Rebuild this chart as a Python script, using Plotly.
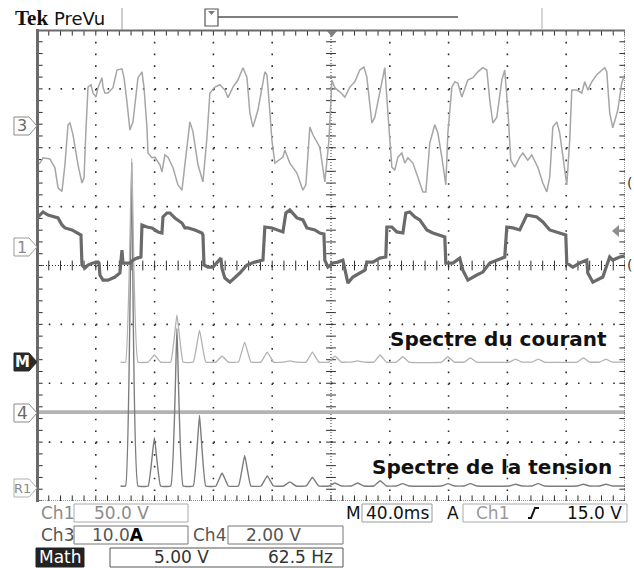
import plotly.graph_objects as go

# ---------------- values ----------------
TIME_DIV_MS = 40.0        # M 40.0 ms
CH1_V_PER_DIV = 50.0      # Ch1 50.0 V
CH3_A_PER_DIV = 10.0      # Ch3 10.0 A
CH4_V_PER_DIV = 2.00      # Ch4 2.00 V
MATH_V_PER_DIV = 5.00     # Math 5.00 V
MATH_HZ_PER_DIV = 62.5    # Math 62.5 Hz

# Ch3 : current (light trace)
ch3_time_ms = [0.0, 2.0, 4.1, 8.8, 12.2, 14.3, 17.0, 19.0, 21.1, 22.4, 24.5, 27.9, 30.6, 32.0, 33.3,
               34.7, 36.7, 38.1, 40.1, 41.5, 44.2, 44.9, 46.2, 48.3, 51.7, 54.4, 57.8, 59.2, 61.2, 63.2,
               65.3, 68.7, 71.4, 72.8, 74.8, 75.5, 78.2, 80.2, 83.6, 85.0, 87.0, 89.1, 92.5, 95.9, 98.6,
               102.0, 104.0, 106.1, 109.5, 112.9, 115.6,
               117.6, 121.0, 124.4, 127.8, 129.9, 133.3, 136.7, 140.1, 142.8, 144.8, 146.9, 150.3, 155.0,
               156.4, 157.8, 159.8, 161.8, 167.3, 168.6, 172.0, 176.8, 180.9, 182.9, 185.6, 187.7, 192.4,
               195.8, 198.6,
               200.6, 202.6, 206.0, 209.4, 212.8, 216.2, 219.6, 222.4, 224.4, 227.8, 229.8, 234.6, 236.6,
               238.7, 241.4, 243.4, 245.5, 248.2, 250.2, 252.3, 255.7, 259.1, 262.5, 264.5, 267.2, 270.6,
               272.7, 275.4, 278.1, 279.5,
               282.2, 284.2, 286.3, 289.0, 291.0, 293.1, 296.5, 299.9, 303.3, 306.0, 308.0, 310.1, 312.8,
               316.2, 318.2, 320.3, 322.3, 325.0, 328.4, 330.5, 333.9, 336.6, 340.7, 344.1, 346.8, 348.8,
               350.9, 353.6, 355.6, 359.0, 360.4, 362.4,
               363.8, 367.2, 370.6, 372.6, 374.7, 377.4, 380.8, 386.2, 387.6, 389.6, 391.7, 395.1, 397.8, 399.8]
ch3_current_a = [-6.6, -6.3, -5.4, -5.6, -7.1, -10.5, -11.1, -6.6, 0.2, 0.5, -1.5, -6.6, -9.7, -8.8, -0.7,
                 6.6, 7.0, 5.6, 4.9, 6.5, 8.2, 6.6, 5.6, 5.6, 6.5, 9.5, 9.7, 8.2, 4.1, -0.7,
                 0.7, 8.2, 9.2, 6.5, -0.3, -4.6, -5.4, -5.3, -6.6, -7.8, -4.9, -5.3, -7.1, -10.0, -10.9,
                 -3.7, 0.7, -1.0, -6.6, -9.5, -2.0,
                 5.6, 6.6, 7.0, 6.1, 4.8, 6.6, 7.8, 9.9, 8.3, 2.2, -0.2, 2.7, 9.2,
                 8.7, 4.4, -2.4, -6.3, -5.3, -4.1, -6.3, -8.0, -10.9, -10.0, -0.2, -1.5, -3.6,
                 -9.5, -2.4,
                 7.8, 6.5, 5.8, 4.9, 6.6, 7.5, 9.5, 10.0, 8.3, 0.5, 1.5, 7.8, 9.9,
                 2.2, -7.0, -7.5, -5.3, -4.6, -6.3, -5.4, -6.3, -8.7, -11.2, -11.2, -2.9, 0.2,
                 -1.2, -5.3, -10.0, -1.2,
                 6.6, 7.5, 7.3, 4.9, 6.5, 7.8, 8.2, 9.2, 9.9, 9.5, 4.4, 0.5, 1.5,
                 7.8, 9.5, 2.7, -5.8, -7.0, -5.3, -4.6, -5.8, -4.9, -7.0, -9.7, -11.2, -8.7,
                 -0.2, 0.7, -1.2, -7.0, -10.0, -2.4,
                 6.1, 6.1, 5.6, 7.5, 6.1, 7.5, 8.7, 9.9, 9.2, 2.2, -0.3, 2.7, 7.3, 8.7]

# Ch1 : voltage (dark, thick trace)
ch1_time_ms = [0.0, 2.0, 4.1, 7.5, 12.2, 14.3, 17.0, 19.0, 23.8, 27.9, 29.9, 30.6, 32.6, 34.7, 38.1,
               41.5, 42.2, 42.8, 44.9, 48.3, 53.0, 56.4, 57.1, 57.8, 58.5, 63.2, 65.3, 68.0, 70.7,
               71.4, 74.8, 78.2, 82.3, 85.0, 85.7, 88.4, 90.4, 93.8, 98.6, 100.6, 102.7, 107.4, 112.2,
               112.9, 113.6, 116.3, 119.7, 123.1, 125.1, 125.8, 127.8, 131.2, 138.0, 142.8, 148.2, 153.7,
               155.0, 159.8, 163.2, 167.3, 169.3, 172.0, 176.8, 180.9, 183.6, 189.0, 192.4, 195.2,
               195.8, 197.9, 201.3, 204.7, 208.1, 209.4, 211.5, 214.9, 219.6, 223.0, 224.4, 228.5, 233.2,
               237.3, 238.0, 241.4, 244.8, 248.9, 250.9, 253.6, 257.0, 260.4, 265.2, 269.3, 277.4,
               278.1, 282.9, 287.6, 289.7, 293.1, 299.2, 303.3, 308.0, 312.8, 318.2,
               319.6, 323.7, 328.4, 333.2, 340.0, 344.1, 348.8, 353.6, 359.7,
               360.4, 364.5, 369.2, 374.0, 374.7, 378.1, 384.9, 388.3, 389.6, 391.7, 396.4, 399.8]
ch1_voltage_v = [24.7, 27.2, 29.8, 27.2, 25.5, 24.7, 18.7, 16.2, 14.5, 11.9, 10.2, -15.3, -17.9, -15.3, -13.6,
                 -12.8, -13.6, -23.8, -28.1, -28.1, -25.5, -22.1, -13.6, -2.6, -13.6, -13.6, -11.1, -9.4, -8.5,
                 18.7, 17.0, 16.2, 12.8, 11.9, 25.5, 28.9, 28.9, 24.7, 20.4, 16.2, 16.2, 14.5, 11.9,
                 10.2, -15.3, -17.0, -17.0, -12.8, -9.4, -17.9, -26.4, -29.8, -22.1, -15.3, -12.8, -11.1,
                 17.0, 16.2, 14.5, 12.8, 28.9, 31.5, 24.7, 23.0, 16.2, 14.5, 11.9, 11.1,
                 -11.1, -17.0, -13.6, -12.8, -11.1, -19.6, -30.6, -25.5, -22.1, -19.6, -12.8, -12.8, -9.4,
                 -8.5, 17.0, 17.0, 12.8, 11.9, 28.9, 29.8, 25.5, 23.0, 14.5, 11.9, 8.5,
                 -13.6, -13.6, -9.4, -19.6, -28.1, -23.8, -21.3, -13.6, -11.1, -8.5,
                 17.0, 16.2, 14.5, 27.2, 25.5, 21.3, 14.5, 12.8, 10.2,
                 -13.6, -17.0, -13.6, -11.1, -22.1, -29.8, -25.5, -13.6, -8.5, -11.1, -8.5, -7.7]

# Ch4 : flat noisy line
ch4_time_ms = [0.0, 400.0]
ch4_voltage_v = [0.0, 0.0]

# FFT spectra (odd harmonics of the fundamental)
fundamental_hz = 12.0
harmonic_order = [1, 3, 5, 7, 9, 11, 13, 15, 17, 19, 21, 23, 25, 29, 31, 35, 37, 41, 43]
spectrum_current = [17.3, 0.6, 4.0, 2.7, 0.5, 1.7, 0.85, 0.1, 0.85, 0.5, 0.1, 0.6, 0.45, 0.45, 0.35,
                    0.25, 0.25, 0.35, 0.25]
spectrum_voltage = [27.5, 4.1, 13.4, 6.0, 1.1, 2.6, 0.85, 0.35, 0.75, 0.25, 0.25, 0.45, 0.2, 0.2, 0.2,
                    0.15, 0.2, 0.15, 0.15]

# ---------------- display setup ----------------
W, H = 634, 568
ML, MR, MT, MB = 37, 9, 30, 67
PW, PH = W - ML - MR, H - MT - MB
NDIV_X, NDIV_Y = 10, 8
X_MAX = NDIV_X * TIME_DIV_MS

# channel reference positions (divisions from centre)
CH3_POS = 2.37
CH1_POS = 0.314
MATH_POS = -1.64
CH4_POS = -2.49
R1_POS = -3.745
FFT_OFFSET_DIV = 1.42
PEAK_HALF_WIDTH_HZ = 6.6


def px(x):
    return (x - ML) / PW


def py(y):
    return (H - MB - y) / PH


def spectrum_xy(amps):
    f, a = [0.0], [0.0]
    for n, amp in zip(harmonic_order, amps):
        fc = n * fundamental_hz
        f += [fc - PEAK_HALF_WIDTH_HZ, fc, fc + PEAK_HALF_WIDTH_HZ]
        a += [0.0, amp, 0.0]
    f_end = (NDIV_X - FFT_OFFSET_DIV) * MATH_HZ_PER_DIV
    f.append(f_end)
    a.append(0.0)
    xs = [(FFT_OFFSET_DIV + v / MATH_HZ_PER_DIV) * TIME_DIV_MS for v in f]
    return xs, a


fig = go.Figure()

# ---------- graticule ticks (markers, clipped to plot area) ----------
GR = '#2e2e2e'
tick_x = [i * TIME_DIV_MS / 5 for i in range(NDIV_X * 5 + 1)]
tick_y = [-NDIV_Y / 2 + i / 5 for i in range(NDIV_Y * 5 + 1)]
for yy in (0, NDIV_Y / 2, -NDIV_Y / 2):
    fig.add_trace(go.Scatter(x=tick_x, y=[yy] * len(tick_x), mode='markers', hoverinfo='skip',
                             marker=dict(symbol='line-ns', size=7 if yy == 0 else 8,
                                         line=dict(color=GR, width=1)), cliponaxis=True))
for xx in (X_MAX / 2, 0, X_MAX):
    fig.add_trace(go.Scatter(x=[xx] * len(tick_y), y=tick_y, mode='markers', hoverinfo='skip',
                             marker=dict(symbol='line-ew', size=7 if xx == X_MAX / 2 else 8,
                                         line=dict(color=GR, width=1)), cliponaxis=True))

# ---------- traces ----------
fig.add_trace(go.Scatter(x=ch4_time_ms, y=[CH4_POS + v / CH4_V_PER_DIV for v in ch4_voltage_v],
                         mode='lines', line=dict(color='#b3b3b3', width=3.6), hoverinfo='skip'))
xs, ys = spectrum_xy(spectrum_voltage)
fig.add_trace(go.Scatter(x=xs, y=[R1_POS + v / MATH_V_PER_DIV for v in ys], mode='lines',
                         line=dict(color='#7c7c7c', width=1.4, shape='spline', smoothing=0.3),
                         hoverinfo='skip'))
xs, ys = spectrum_xy(spectrum_current)
fig.add_trace(go.Scatter(x=xs, y=[MATH_POS + v / MATH_V_PER_DIV for v in ys], mode='lines',
                         line=dict(color='#b2b2b2', width=1.3, shape='spline', smoothing=0.3),
                         hoverinfo='skip'))
fig.add_trace(go.Scatter(x=ch3_time_ms, y=[CH3_POS + v / CH3_A_PER_DIV for v in ch3_current_a],
                         mode='lines', line=dict(color='#a6a6a6', width=1.5), hoverinfo='skip'))
fig.add_trace(go.Scatter(x=ch1_time_ms, y=[CH1_POS + v / CH1_V_PER_DIV for v in ch1_voltage_v],
                         mode='lines', line=dict(color='#6a6a6a', width=3.2), hoverinfo='skip'))

shapes = []
ann = []

# ---------- graticule lines ----------
dx_px = PW / NDIV_X / 5
dy_px = PH / NDIV_Y / 5
for k in range(1, NDIV_X):
    xx = k * TIME_DIV_MS
    dash = '1px,2px' if k == 5 else f'1.6px,{dy_px - 1.6:.2f}px'
    shapes.append(dict(type='line', xref='x', yref='y', x0=xx, x1=xx, y0=NDIV_Y / 2, y1=-NDIV_Y / 2,
                       line=dict(color=GR, width=1.6 if k != 5 else 1, dash=dash), layer='below'))
for k in range(1, NDIV_Y):
    yy = -NDIV_Y / 2 + k
    dash = '1px,2px' if yy == 0 else f'1.6px,{dx_px - 1.6:.2f}px'
    shapes.append(dict(type='line', xref='x', yref='y', x0=0, x1=X_MAX, y0=yy, y1=yy,
                       line=dict(color=GR, width=1.6 if yy != 0 else 1, dash=dash), layer='below'))
# frame
shapes.append(dict(type='line', xref='x', yref='y', x0=X_MAX, x1=X_MAX, y0=-4, y1=4,
                   line=dict(color=GR, width=1, dash='1px,1px')))
shapes.append(dict(type='line', xref='x', yref='y', x0=0, x1=X_MAX, y0=-4, y1=-4,
                   line=dict(color=GR, width=1, dash='1px,1px')))
shapes.append(dict(type='line', xref='paper', yref='paper', x0=px(37.5), x1=px(37.5), y0=py(29), y1=py(502),
                   line=dict(color='#6a6a6a', width=3)))
shapes.append(dict(type='line', xref='paper', yref='paper', x0=px(36), x1=px(625), y0=py(30.5), y1=py(30.5),
                   line=dict(color='#6a6a6a', width=2)))


def poly(points, fill, line='rgba(0,0,0,0)', lw=1):
    p = 'M ' + ' L '.join(f'{px(a):.5f},{py(b):.5f}' for a, b in points) + ' Z'
    shapes.append(dict(type='path', xref='paper', yref='paper', path=p, fillcolor=fill,
                       line=dict(color=line, width=lw)))


def seg(x0, y0, x1, y1, color, width=1):
    shapes.append(dict(type='line', xref='paper', yref='paper', x0=px(x0), y0=py(y0), x1=px(x1), y1=py(y1),
                       line=dict(color=color, width=width)))


def rect(x0, y0, x1, y1, line, fill='rgba(0,0,0,0)', lw=1):
    shapes.append(dict(type='rect', xref='paper', yref='paper', x0=px(x0), y0=py(y0), x1=px(x1), y1=py(y1),
                       line=dict(color=line, width=lw), fillcolor=fill))


def text(x, y, s, size=17, color='#000', family='DejaVu Sans', xanchor='center'):
    ann.append(dict(xref='paper', yref='paper', x=px(x), y=py(y), text=s, showarrow=False,
                    xanchor=xanchor, yanchor='middle', font=dict(family=family, size=size, color=color)))


# trigger marker on top of graticule
poly([(327, 31), (337, 31), (332, 37)], '#808080')


# channel tags on the left
def tag(yc, label, fill, line, fcolor, size):
    poly([(14, yc - 9), (29, yc - 9), (37, yc), (29, yc + 9), (14, yc + 9)], fill, line, 1)
    text(22, yc, label, size=size, color=fcolor)


tag(126, '3', 'white', '#8a8a8a', '#6a6a6a', 16)
tag(247, '1', 'white', '#9a9a9a', '#8a8a8a', 16)
tag(362, '<b>M</b>', '#2a2a2a', '#2a2a2a', 'white', 15)
tag(413, '4', 'white', '#8a8a8a', '#6a6a6a', 17)
tag(488, 'R1', 'white', '#b0b0b0', '#8a8a8a', 13)

# right side markers
poly([(612, 231), (619, 225), (619, 237)], '#8c8c8c')
seg(618, 231, 625, 231, '#8c8c8c', 2)
text(629, 183, '(', size=14, color='#333')
text(629, 265, '(', size=14, color='#333')

# header
text(13, 18, '<b>Tek</b>', size=21, color='#111', family='Liberation Serif', xanchor='left')
text(52, 18, 'PreVu', size=18, color='#111', family='DejaVu Sans', xanchor='left')
seg(122, 8, 122, 30, '#9a9a9a', 1)
rect(205, 9, 218, 26, '#555555', lw=1.2)
poly([(208, 11), (215, 11), (211.5, 15)], '#7a7a7a')
seg(218, 17, 458, 17, '#555555', 1.5)
seg(542, 8, 542, 29, '#aaaaaa', 1)

# spectrum labels
text(498, 339, '<b>Spectre du courant</b>', size=20, color='#111')
text(492, 467, '<b>Spectre de la tension</b>', size=20, color='#111')

# footer
R1Y, R2Y, R3Y = 513, 535, 557
text(57, R1Y, 'Ch1', color='#8c8c8c')
rect(74, 504, 188, 522, '#aaaaaa')
text(121, R1Y, '50.0 V', color='#8c8c8c')
text(353, R1Y, 'M', color='#111')
rect(362, 504, 432, 522, '#999999')
text(397, R1Y, '40.0ms', color='#111')
text(453, R1Y, 'A', color='#111')
rect(463, 504, 627, 522, '#aaaaaa')
text(492, R1Y, 'Ch1', color='#9a9a9a')
shapes.append(dict(type='path', xref='paper', yref='paper',
                   path=f'M {px(528)},{py(518)} L {px(531)},{py(518)} L {px(535)},{py(508)} L {px(539)},{py(508)}',
                   line=dict(color='#111', width=2)))
text(594, R1Y, '15.0 V', color='#111')

text(57, R2Y, 'Ch3', color='#555')
rect(74, 526, 188, 544, '#777777')
text(118, R2Y, "10.0<span style='color:#000'><b>A</b></span>", color='#555')
text(209, R2Y, 'Ch4', color='#555')
rect(228, 526, 343, 544, '#777777')
text(273, R2Y, '2.00 V', color='#555')

rect(36, 548, 84, 567, '#222222', fill='#222222')
text(60, R3Y, 'Math', color='white')
rect(110, 548, 343, 567, '#555555')
text(181, R3Y, '5.00 V', color='#333')
text(300, R3Y, '62.5 Hz', color='#333')

fig.update_layout(
    width=W, height=H, margin=dict(l=ML, r=MR, t=MT, b=MB, pad=0),
    paper_bgcolor='white', plot_bgcolor='white', showlegend=False,
    xaxis=dict(range=[0, X_MAX], visible=False, fixedrange=True),
    yaxis=dict(range=[-NDIV_Y / 2, NDIV_Y / 2], visible=False, fixedrange=True),
    shapes=shapes, annotations=ann,
)
fig.write_html('out.html', config={'displayModeBar': False})
